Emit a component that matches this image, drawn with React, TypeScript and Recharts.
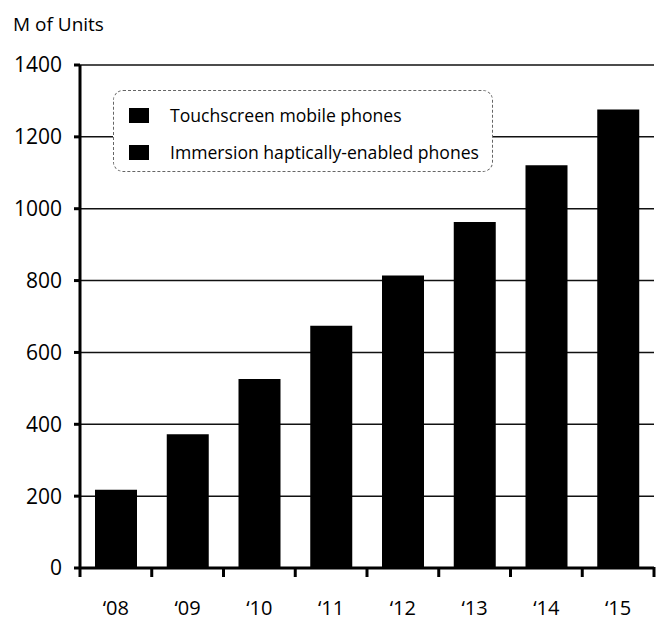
import React from 'react';
import { BarChart, Bar, XAxis, YAxis, CartesianGrid } from 'recharts';

const categories = ['\u201808', '\u201809', '\u201810', '\u201811', '\u201812', '\u201813', '\u201814', '\u201815'];
const touchscreenUnits = [218, 372, 526, 674, 814, 963, 1121, 1276];
const yTicks = [0, 200, 400, 600, 800, 1000, 1200, 1400];
const seriesNames = ['Touchscreen mobile phones', 'Immersion haptically-enabled phones'];
const yAxisTitle = 'M of Units';

const data = categories.map((c, i) => ({ year: c, touchscreen: touchscreenUnits[i] }));

const FONT = '"Open Sans", "Liberation Sans", sans-serif';
const W = 660;
const H = 623;
const PLOT_LEFT = 80;
const PLOT_RIGHT = 654;
const BAND = (PLOT_RIGHT - PLOT_LEFT) / categories.length;

function XTick(props: any) {
  const { x, y, payload, index } = props;
  const last = index === categories.length - 1;
  return (
    <g>
      <line x1={x - BAND / 2} x2={x - BAND / 2} y1={y - 1} y2={y + 9} stroke="#000" strokeWidth={3} />
      {last && <line x1={x + BAND / 2} x2={x + BAND / 2} y1={y - 1} y2={y + 9} stroke="#000" strokeWidth={3} />}
      <text x={x} y={y + 47} textAnchor="middle" fontSize={20} fontFamily={FONT} fill="#000">
        {payload.value}
      </text>
    </g>
  );
}

export default function App() {
  return (
    <div style={{ position: 'absolute', left: 0, top: 0, width: W, height: H, background: '#fff', fontFamily: FONT }}>
      <div style={{ position: 'absolute', left: 13, top: 10, fontSize: 19, color: '#000', lineHeight: '28px', whiteSpace: 'nowrap' }}>
        {yAxisTitle}
      </div>
      <BarChart width={W} height={H} data={data} margin={{ top: 65, right: W - PLOT_RIGHT, bottom: 0, left: 0 }}>
        <CartesianGrid vertical={false} stroke="#111" strokeWidth={1.5} />
        <YAxis
          width={PLOT_LEFT}
          domain={[0, 1400]}
          ticks={yTicks}
          interval={0}
          axisLine={{ stroke: '#000', strokeWidth: 3 }}
          tickLine={{ stroke: '#000', strokeWidth: 3 }}
          tickSize={6}
          tickMargin={12}
          tick={{ fontSize: 21, fill: '#000', fontFamily: FONT }}
        />
        <XAxis
          dataKey="year"
          height={55}
          interval={0}
          axisLine={{ stroke: '#000', strokeWidth: 3 }}
          tickLine={false}
          tickSize={0}
          tickMargin={0}
          tick={<XTick />}
        />
        <Bar dataKey="touchscreen" name={seriesNames[0]} fill="#000" barSize={42} isAnimationActive={false} />
      </BarChart>
      <div
        style={{
          position: 'absolute',
          left: 113,
          top: 90,
          width: 380,
          height: 82,
          border: '1.5px dashed #666',
          borderRadius: 10,
          background: '#fff',
          boxSizing: 'border-box',
        }}
      >
        {seriesNames.map((n, i) => (
          <div
            key={n}
            style={{
              position: 'absolute',
              left: 15,
              top: 12 + i * 37,
              height: 24,
              display: 'flex',
              alignItems: 'center',
              whiteSpace: 'nowrap',
              fontSize: 17.6,
              color: '#000',
            }}
          >
            <span style={{ display: 'inline-block', width: 20, height: 15, background: '#000', marginRight: 21 }} />
            {n}
          </div>
        ))}
      </div>
    </div>
  );
}
